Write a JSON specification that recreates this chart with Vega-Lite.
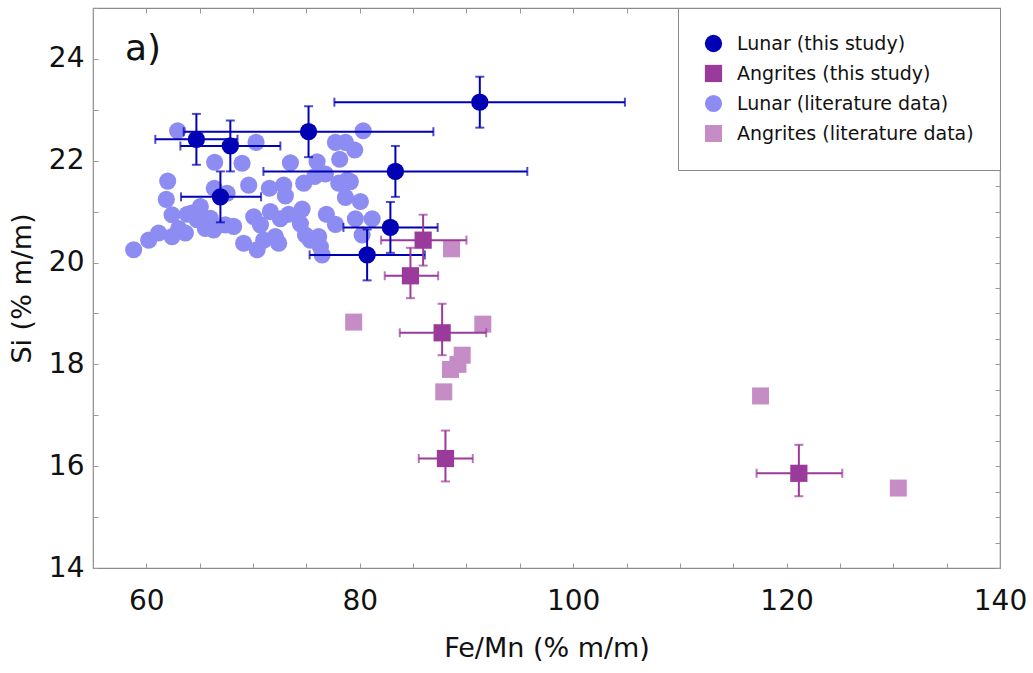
{
  "$schema": "https://vega.github.io/schema/vega-lite/v6.json",
  "autosize": {"type": "none"},
  "padding": {"left": 93, "top": 8, "right": 33, "bottom": 105},
  "width": 907,
  "height": 560,
  "background": "white",
  "config": {
    "view": {"stroke": "#8a8a8a", "strokeWidth": 1.2},
    "font": "DejaVu Sans",
    "legend": {
      "orient": "top-right",
      "offset": 0,
      "padding": 26,
      "strokeColor": "#8a8a8a",
      "fillColor": "white",
      "labelFont": "DejaVu Sans",
      "labelFontSize": 19,
      "labelColor": "#111",
      "labelOffset": 14,
      "labelLimit": 400,
      "rowPadding": 10,
      "symbolStrokeWidth": 0,
      "symbolOpacity": 1,
      "cornerRadius": 0
    }
  },
  "datasets": {
    "lunarLit": [
      {"group": "Lunar (literature data)", "fe_mn": 62.93, "si": 22.59},
      {"group": "Lunar (literature data)", "fe_mn": 70.28, "si": 22.36},
      {"group": "Lunar (literature data)", "fe_mn": 66.40, "si": 21.97},
      {"group": "Lunar (literature data)", "fe_mn": 68.97, "si": 21.95},
      {"group": "Lunar (literature data)", "fe_mn": 73.50, "si": 21.96},
      {"group": "Lunar (literature data)", "fe_mn": 76.00, "si": 21.98},
      {"group": "Lunar (literature data)", "fe_mn": 78.12, "si": 22.03},
      {"group": "Lunar (literature data)", "fe_mn": 77.72, "si": 22.36},
      {"group": "Lunar (literature data)", "fe_mn": 78.66, "si": 22.36},
      {"group": "Lunar (literature data)", "fe_mn": 79.53, "si": 22.21},
      {"group": "Lunar (literature data)", "fe_mn": 80.32, "si": 22.59},
      {"group": "Lunar (literature data)", "fe_mn": 62.00, "si": 21.60},
      {"group": "Lunar (literature data)", "fe_mn": 69.59, "si": 21.52},
      {"group": "Lunar (literature data)", "fe_mn": 71.53, "si": 21.46},
      {"group": "Lunar (literature data)", "fe_mn": 72.87, "si": 21.52},
      {"group": "Lunar (literature data)", "fe_mn": 73.03, "si": 21.31},
      {"group": "Lunar (literature data)", "fe_mn": 74.75, "si": 21.56},
      {"group": "Lunar (literature data)", "fe_mn": 75.78, "si": 21.69},
      {"group": "Lunar (literature data)", "fe_mn": 76.78, "si": 21.74},
      {"group": "Lunar (literature data)", "fe_mn": 78.03, "si": 21.56},
      {"group": "Lunar (literature data)", "fe_mn": 78.82, "si": 21.62},
      {"group": "Lunar (literature data)", "fe_mn": 79.12, "si": 21.59},
      {"group": "Lunar (literature data)", "fe_mn": 78.66, "si": 21.28},
      {"group": "Lunar (literature data)", "fe_mn": 80.06, "si": 21.20},
      {"group": "Lunar (literature data)", "fe_mn": 61.87, "si": 21.24},
      {"group": "Lunar (literature data)", "fe_mn": 66.37, "si": 21.46},
      {"group": "Lunar (literature data)", "fe_mn": 67.57, "si": 21.36},
      {"group": "Lunar (literature data)", "fe_mn": 62.41, "si": 20.94},
      {"group": "Lunar (literature data)", "fe_mn": 64.28, "si": 20.97},
      {"group": "Lunar (literature data)", "fe_mn": 65.06, "si": 21.10},
      {"group": "Lunar (literature data)", "fe_mn": 64.75, "si": 20.84},
      {"group": "Lunar (literature data)", "fe_mn": 66.00, "si": 20.87},
      {"group": "Lunar (literature data)", "fe_mn": 65.53, "si": 20.67},
      {"group": "Lunar (literature data)", "fe_mn": 66.31, "si": 20.64},
      {"group": "Lunar (literature data)", "fe_mn": 63.03, "si": 20.67},
      {"group": "Lunar (literature data)", "fe_mn": 63.66, "si": 20.58},
      {"group": "Lunar (literature data)", "fe_mn": 61.15, "si": 20.58},
      {"group": "Lunar (literature data)", "fe_mn": 60.22, "si": 20.44},
      {"group": "Lunar (literature data)", "fe_mn": 62.41, "si": 20.51},
      {"group": "Lunar (literature data)", "fe_mn": 58.81, "si": 20.25},
      {"group": "Lunar (literature data)", "fe_mn": 67.41, "si": 20.74},
      {"group": "Lunar (literature data)", "fe_mn": 68.18, "si": 20.71},
      {"group": "Lunar (literature data)", "fe_mn": 69.12, "si": 20.38},
      {"group": "Lunar (literature data)", "fe_mn": 70.38, "si": 20.25},
      {"group": "Lunar (literature data)", "fe_mn": 71.00, "si": 20.44},
      {"group": "Lunar (literature data)", "fe_mn": 72.09, "si": 20.51},
      {"group": "Lunar (literature data)", "fe_mn": 72.40, "si": 20.38},
      {"group": "Lunar (literature data)", "fe_mn": 70.06, "si": 20.90},
      {"group": "Lunar (literature data)", "fe_mn": 70.69, "si": 20.74},
      {"group": "Lunar (literature data)", "fe_mn": 71.62, "si": 21.00},
      {"group": "Lunar (literature data)", "fe_mn": 72.56, "si": 20.86},
      {"group": "Lunar (literature data)", "fe_mn": 73.34, "si": 20.95},
      {"group": "Lunar (literature data)", "fe_mn": 74.60, "si": 21.05},
      {"group": "Lunar (literature data)", "fe_mn": 74.44, "si": 20.76},
      {"group": "Lunar (literature data)", "fe_mn": 74.91, "si": 20.54},
      {"group": "Lunar (literature data)", "fe_mn": 75.37, "si": 20.44},
      {"group": "Lunar (literature data)", "fe_mn": 76.15, "si": 20.51},
      {"group": "Lunar (literature data)", "fe_mn": 76.31, "si": 20.31},
      {"group": "Lunar (literature data)", "fe_mn": 76.47, "si": 20.15},
      {"group": "Lunar (literature data)", "fe_mn": 76.87, "si": 20.95},
      {"group": "Lunar (literature data)", "fe_mn": 77.72, "si": 20.75},
      {"group": "Lunar (literature data)", "fe_mn": 79.59, "si": 20.86},
      {"group": "Lunar (literature data)", "fe_mn": 81.16, "si": 20.86},
      {"group": "Lunar (literature data)", "fe_mn": 80.22, "si": 20.54},
      {"group": "Lunar (literature data)", "fe_mn": 63.84, "si": 20.95}
    ],
    "angLit": [
      {"group": "Angrites (literature data)", "fe_mn": 88.6, "si": 20.27},
      {"group": "Angrites (literature data)", "fe_mn": 79.43, "si": 18.83},
      {"group": "Angrites (literature data)", "fe_mn": 91.53, "si": 18.79},
      {"group": "Angrites (literature data)", "fe_mn": 89.6, "si": 18.18},
      {"group": "Angrites (literature data)", "fe_mn": 89.2, "si": 18.0},
      {"group": "Angrites (literature data)", "fe_mn": 88.5, "si": 17.9},
      {"group": "Angrites (literature data)", "fe_mn": 87.87, "si": 17.46},
      {"group": "Angrites (literature data)", "fe_mn": 117.56, "si": 17.38},
      {"group": "Angrites (literature data)", "fe_mn": 130.47, "si": 15.57}
    ],
    "study": [
      {"group": "Lunar (this study)", "fe_mn": 64.69, "si": 22.42, "fe_lo": 60.84, "fe_hi": 68.54, "si_lo": 21.92, "si_hi": 22.92},
      {"group": "Lunar (this study)", "fe_mn": 67.87, "si": 22.29, "fe_lo": 63.19, "fe_hi": 72.56, "si_lo": 21.79, "si_hi": 22.79},
      {"group": "Lunar (this study)", "fe_mn": 75.2, "si": 22.57, "fe_lo": 63.5, "fe_hi": 86.9, "si_lo": 22.07, "si_hi": 23.07},
      {"group": "Lunar (this study)", "fe_mn": 66.94, "si": 21.29, "fe_lo": 63.25, "fe_hi": 70.75, "si_lo": 20.79, "si_hi": 21.79},
      {"group": "Lunar (this study)", "fe_mn": 83.34, "si": 21.79, "fe_lo": 70.97, "fe_hi": 95.7, "si_lo": 21.29, "si_hi": 22.29},
      {"group": "Lunar (this study)", "fe_mn": 82.87, "si": 20.69, "fe_lo": 78.47, "fe_hi": 87.3, "si_lo": 20.19, "si_hi": 21.19},
      {"group": "Lunar (this study)", "fe_mn": 80.69, "si": 20.15, "fe_lo": 75.3, "fe_hi": 86.1, "si_lo": 19.65, "si_hi": 20.65},
      {"group": "Lunar (this study)", "fe_mn": 91.25, "si": 23.15, "fe_lo": 77.62, "fe_hi": 104.85, "si_lo": 22.65, "si_hi": 23.65},
      {"group": "Angrites (this study)", "fe_mn": 85.94, "si": 20.44, "fe_lo": 82.0, "fe_hi": 90.0, "si_lo": 19.94, "si_hi": 20.94},
      {"group": "Angrites (this study)", "fe_mn": 84.75, "si": 19.74, "fe_lo": 82.34, "fe_hi": 87.35, "si_lo": 19.3, "si_hi": 20.29},
      {"group": "Angrites (this study)", "fe_mn": 87.72, "si": 18.62, "fe_lo": 83.75, "fe_hi": 91.85, "si_lo": 18.18, "si_hi": 19.19},
      {"group": "Angrites (this study)", "fe_mn": 88.03, "si": 16.15, "fe_lo": 85.53, "fe_hi": 90.59, "si_lo": 15.7, "si_hi": 16.7},
      {"group": "Angrites (this study)", "fe_mn": 121.15, "si": 15.86, "fe_lo": 117.19, "fe_hi": 125.22, "si_lo": 15.41, "si_hi": 16.42}
    ],
    "panel": [{"label": "a)", "fe_mn": 58.0, "si": 24.2}]
  },
  "resolve": {"axis": {"x": "independent", "y": "independent"}},
  "layer": [
    {
      "data": {"name": "lunarLit"},
      "mark": {"type": "point", "filled": true, "opacity": 1},
      "encoding": {
        "x": {"field": "fe_mn", "type": "quantitative",
          "scale": {"domain": [55, 140], "nice": false, "zero": false},
          "axis": {"title": "Fe/Mn (% m/m)", "orient": "bottom",
            "values": [55,60,65,70,75,80,85,90,95,100,105,110,115,120,125,130,135,140],
            "format": "d",
            "labelExpr": "datum.value % 20 == 0 ? datum.label : ''",
            "domain": false, "grid": false, "tickSize": -5, "tickColor": "#999", "tickWidth": 1,
            "labelFont": "DejaVu Sans", "labelFontSize": 28, "labelColor": "#111", "labelPadding": 24,
            "labelFlush": false, "labelOverlap": false,
            "titleFont": "DejaVu Sans", "titleFontSize": 27, "titleFontWeight": "normal", "titleColor": "#111", "titlePadding": 20}},
        "y": {"field": "si", "type": "quantitative",
          "scale": {"domain": [14, 25], "nice": false, "zero": false},
          "axis": {"title": "Si (% m/m)", "orient": "left",
            "values": [14,14.5,15,15.5,16,16.5,17,17.5,18,18.5,19,19.5,20,20.5,21,21.5,22,22.5,23,23.5,24,24.5,25],
            "format": "d",
            "labelExpr": "datum.value % 2 == 0 ? datum.label : ''",
            "domain": false, "grid": false, "tickSize": -5, "tickColor": "#999", "tickWidth": 1,
            "labelFont": "DejaVu Sans", "labelFontSize": 28, "labelColor": "#111", "labelPadding": 14,
            "labelFlush": false, "labelOverlap": false,
            "titleFont": "DejaVu Sans", "titleFontSize": 27, "titleFontWeight": "normal", "titleColor": "#111", "titlePadding": 12}},
        "color": {"field": "group", "type": "nominal",
          "scale": {"domain": ["Lunar (this study)", "Angrites (this study)", "Lunar (literature data)", "Angrites (literature data)"],
            "range": ["#0000b4", "#9a3a9a", "#8c8cf2", "#c68cc6"]},
          "legend": {"title": null}},
        "shape": {"field": "group", "type": "nominal",
          "scale": {"domain": ["Lunar (this study)", "Angrites (this study)", "Lunar (literature data)", "Angrites (literature data)"],
            "range": ["circle", "square", "circle", "square"]},
          "legend": {"title": null}},
        "size": {"field": "group", "type": "nominal",
          "scale": {"domain": ["Lunar (this study)", "Angrites (this study)", "Lunar (literature data)", "Angrites (literature data)"],
            "range": [300, 289, 150, 121]},
          "legend": {"title": null}}
      }
    },
    {
      "data": {"name": "angLit"},
      "mark": {"type": "point", "filled": true, "opacity": 1},
      "encoding": {
        "x": {"field": "fe_mn", "type": "quantitative", "axis": null},
        "y": {"field": "si", "type": "quantitative", "axis": null},
        "color": {"field": "group", "type": "nominal"},
        "shape": {"field": "group", "type": "nominal"},
        "size": {"field": "group", "type": "nominal"}
      }
    },
    {
      "data": {"name": "study"},
      "mark": {"type": "errorbar", "ticks": {"size": 9}, "thickness": 2},
      "encoding": {
        "x": {"field": "fe_lo", "type": "quantitative", "axis": null},
        "x2": {"field": "fe_hi"},
        "y": {"field": "si", "type": "quantitative", "axis": null},
        "color": {"field": "group", "type": "nominal", "legend": null}
      }
    },
    {
      "data": {"name": "study"},
      "mark": {"type": "errorbar", "ticks": {"size": 9}, "thickness": 2},
      "encoding": {
        "y": {"field": "si_lo", "type": "quantitative", "axis": null},
        "y2": {"field": "si_hi"},
        "x": {"field": "fe_mn", "type": "quantitative", "axis": null},
        "color": {"field": "group", "type": "nominal", "legend": null}
      }
    },
    {
      "data": {"name": "study"},
      "mark": {"type": "point", "filled": true, "opacity": 1},
      "encoding": {
        "x": {"field": "fe_mn", "type": "quantitative", "axis": null},
        "y": {"field": "si", "type": "quantitative", "axis": null},
        "color": {"field": "group", "type": "nominal"},
        "shape": {"field": "group", "type": "nominal"},
        "size": {"field": "group", "type": "nominal"}
      }
    },
    {
      "data": {"name": "panel"},
      "mark": {"type": "text", "align": "left", "baseline": "middle", "fontSize": 36, "font": "DejaVu Sans", "color": "#111"},
      "encoding": {
        "x": {"field": "fe_mn", "type": "quantitative",
          "axis": {"orient": "top", "values": [55,60,65,70,75,80,85,90,95,100,105,110,115,120,125,130,135,140],
            "labels": false, "domain": false, "grid": false, "tickSize": -5, "tickColor": "#999", "title": null}},
        "y": {"field": "si", "type": "quantitative",
          "axis": {"orient": "right", "values": [14,14.5,15,15.5,16,16.5,17,17.5,18,18.5,19,19.5,20,20.5,21,21.5,22,22.5,23,23.5,24,24.5,25],
            "labels": false, "domain": false, "grid": false, "tickSize": -5, "tickColor": "#999", "title": null}},
        "text": {"field": "label"}
      }
    }
  ]
}
